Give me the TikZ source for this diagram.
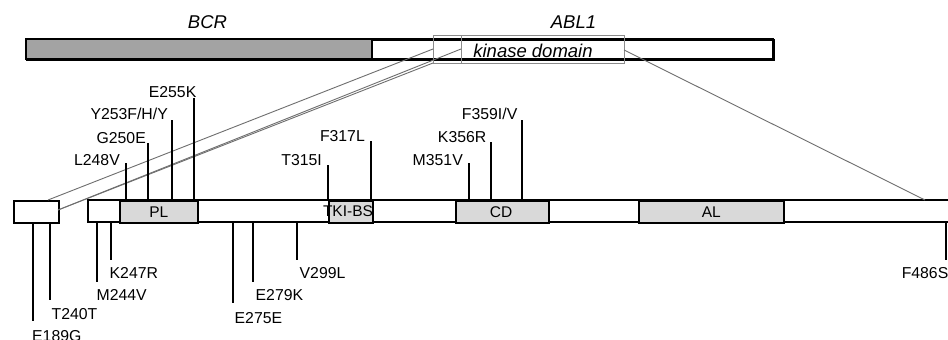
\documentclass[tikz,border=0pt]{standalone}
\usepackage{fontspec}
\setmainfont{Liberation Sans}
\definecolor{darkfill}{HTML}{A3A3A3}
\definecolor{lightfill}{HTML}{D9D9D9}
\definecolor{zoomgray}{HTML}{6E6E6E}
\begin{document}
\begin{tikzpicture}[x=1pt,y=-1pt,
  bar/.style={draw=black,line width=1.6pt},
  dom/.style={draw=black,line width=1.6pt,fill=lightfill},
  tick/.style={draw=black,line width=1.8pt},
  zoomline/.style={draw=zoomgray,line width=0.9pt},
  mut/.style={inner sep=0pt,font=\fontsize{15.8}{18}\selectfont},
  domlabel/.style={inner sep=0pt,font=\fontsize{15.5}{18}\selectfont},
  gene/.style={inner sep=0pt,font=\fontsize{18.5}{22}\selectfont\itshape}]
\useasboundingbox[fill=white] (0,0) rectangle (948,340);

% ---- top fusion bar ----
\node[bar,fill=white,minimum width=747pt,minimum height=20pt,inner sep=0pt,anchor=north west] (fusion) at (26,39) {};
\fill[darkfill] (26.8,39.8) rectangle (372,58.2);
\draw[line width=1.6pt] (26,39) rectangle (773,59);
\draw[line width=1.6pt] (372,39) -- (372,59);
\node[gene] (bcr) at (207.5,22) {BCR};
\node[gene] (abl) at (573.5,22) {ABL1};

% kinase domain box
\node[draw=zoomgray!80,line width=1pt,minimum width=191pt,minimum height=28pt,inner sep=0pt,anchor=north west] (kd) at (433,35) {};
\coordinate (kdsplitT) at (461,35);
\coordinate (kdsplitB) at (461,63);
\draw[draw=zoomgray!80,line width=1pt] (kdsplitT) -- (kdsplitB);
\node[gene,anchor=base] (kdlabel) at (533,57) {kinase domain};

% ---- lower bars ----
\node[bar,fill=white,minimum width=45pt,minimum height=22pt,inner sep=0pt,anchor=north west] (small) at (13,200) {};
\draw[line width=1.6pt] (960,200) -- (88,200) -- (88,222) -- (960,222);
\node[dom,minimum width=78pt,minimum height=22pt,inner sep=0pt,anchor=north west] (pl) at (119,200) {};
\node[dom,minimum width=44pt,minimum height=22pt,inner sep=0pt,anchor=north west] (tki) at (328,200) {};
\node[dom,minimum width=93pt,minimum height=22pt,inner sep=0pt,anchor=north west] (cd) at (455,200) {};
\node[dom,minimum width=145pt,minimum height=22pt,inner sep=0pt,anchor=north west] (al) at (638,200) {};
\node[domlabel] (pll) at (pl.center) {PL};
\node[domlabel] (tkil) at (348,211) {TKI-BS};
\node[domlabel] (cdl) at (501,212) {CD};
\node[domlabel] (all) at (pl.center -| al.center) {AL};

% ---- zoom connectors ----
\coordinate (zA) at (433,49);
\coordinate (zB) at (461,49);
\coordinate (zC) at (433,63);
\coordinate (zR) at (624,50);
\coordinate (sTop) at (48,200);
\coordinate (sRight) at (58,210);
\coordinate (mR) at (925,200);
\draw[zoomline] (zA) -- (sTop);
\draw[zoomline] (zB) -- (sRight);
\draw[zoomline] (zC) -- (sRight);
\draw[zoomline] (zR) -- (mR);

% ---- mutations above the bar ----
\foreach \x/\t/\rx/\by/\lab/\n in {
  126/163/120/165/L248V/a1,
  148/143/146/143/G250E/a2,
  172/120/168/119/Y253F\slash H\slash Y/a3,
  194/98/196.5/97/E255K/a4,
  328/165/322/165/T315I/a5,
  371/141/365/141/F317L/a6,
  469/163/463/165/M351V/a7,
  491/142/486.5/142/K356R/a8,
  522/120/517.5/119/F359I\slash V/a9}{
  \coordinate (\n b) at (\x,200);
  \coordinate (\n t) at (\x,\t);
  \draw[tick] (\n b) -- (\n t);
  \node[mut,anchor=base east] (\n l) at (\rx,\by) {\lab};
}

% ---- mutations below the bar ----
\foreach \x/\b/\lx/\ty/\lab/\n in {
  33/321/32/330/E189G/b1,
  50/300/51.5/308/T240T/b2,
  97/282/96.5/289/M244V/b3,
  111/260/109.5/267/K247R/b4,
  233/303/234.5/312/E275E/b5,
  253/282/255.5/289/E279K/b6,
  297/260/299.5/267/V299L/b7}{
  \coordinate (\n t) at (\x,222);
  \coordinate (\n b) at (\x,\b);
  \draw[tick] (\n t) -- (\n b);
  \node[mut,anchor=north west] (\n l) at (\lx,\ty) {\lab};
}
\coordinate (c1t) at (946,222);
\coordinate (c1b) at (946,260);
\draw[tick] (c1t) -- (c1b);
\node[mut,anchor=north east] (c1l) at (948.5,267) {F486S};
\end{tikzpicture}
\end{document}
